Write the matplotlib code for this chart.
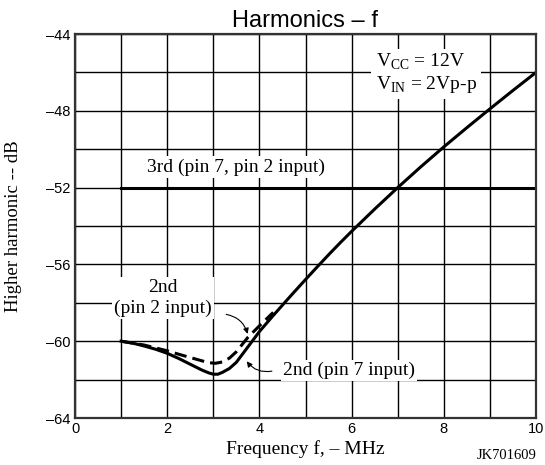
import matplotlib
matplotlib.use("Agg")
import matplotlib.pyplot as plt

plt.rcParams["mathtext.fontset"] = "custom"
plt.rcParams["mathtext.rm"] = "Liberation Serif"

# 2nd harmonic, pin 7 input (solid)
freq_pin7 = [1.0, 1.25, 1.5, 1.75, 2.0, 2.25, 2.5, 2.75, 2.9, 3.0, 3.1, 3.2, 3.35, 3.5, 3.75,
             4.0, 4.25, 4.5, 4.75, 5.0, 5.25, 5.5, 5.75, 6.0, 6.5, 7.0, 7.5, 8.0, 8.5,
             9.0, 9.5, 10.0]
db_pin7 = [-60.0, -60.1, -60.25, -60.42, -60.63, -60.9, -61.2, -61.5, -61.65, -61.72, -61.72,
           -61.62, -61.42, -61.1, -60.3, -59.5, -58.8, -58.12, -57.45, -56.79, -56.14,
           -55.5, -54.88, -54.28, -53.12, -52.0, -50.92, -49.88, -48.88, -47.9, -46.94, -46.0]

# 2nd harmonic, pin 2 input (dashed)
freq_pin2 = [1.0, 1.25, 1.5, 1.75, 2.0, 2.25, 2.5, 2.75, 2.9, 3.05, 3.2, 3.35, 3.5, 3.75, 4.0, 4.3]
db_pin2 = [-60.0, -60.1, -60.2, -60.35, -60.5, -60.68, -60.85, -61.02, -61.12, -61.15, -61.08,
           -60.88, -60.55, -59.8, -59.2, -58.5]

# 3rd harmonic (pin 7 and pin 2 input)
freq_3rd = [1.0, 10.0]
db_3rd = [-52.0, -52.0]

xticks = [0, 2, 4, 6, 8, 10]
yticks = [-44, -48, -52, -56, -60, -64]

serif = ["Liberation Serif", "DejaVu Serif"]
sans = ["Liberation Sans", "DejaVu Sans"]

fig = plt.figure(figsize=(5.45, 4.65), dpi=100)
ax = fig.add_axes([75 / 545, 47 / 465, 461 / 545, 384 / 465])

ax.set_xlim(0, 10)
ax.set_ylim(-64, -44)
ax.set_xticks(xticks)
ax.set_yticks(yticks)
ax.set_xticks(range(0, 11), minor=True)
ax.set_yticks(range(-64, -43, 2), minor=True)
ax.set_xticklabels([str(t) for t in xticks], family=sans, fontsize=10.5)
ax.set_yticklabels(["\u2013" + str(-t) for t in yticks], family=sans, fontsize=10.5)
ax.tick_params(which="both", length=0, pad=3)
ax.grid(which="both", color="black", lw=1.0)
ax.set_axisbelow(True)
for s in ax.spines.values():
    s.set_linewidth(1.6)
    s.set_color("#333333")
    s.set_zorder(5)

ax.plot(freq_3rd, db_3rd, color="black", lw=2.2, zorder=3)
ax.plot(freq_pin7, db_pin7, color="black", lw=2.2, zorder=3)
ax.plot(freq_pin2, db_pin2, color="black", lw=2.2, ls=(0, (4, 2)), zorder=3)

box = dict(facecolor="white", edgecolor="none", pad=1.5)

ax.text(3.5, -50.93, "3rd (pin 7, pin 2 input)", family=serif, fontsize=14,
        ha="center", va="center", bbox=box, zorder=4)
ax.text(1.91, -57.75, "2nd\n(pin 2 input)", family=serif, fontsize=14,
        ha="center", va="center", linespacing=1.25, bbox=box, zorder=4)
ax.text(5.95, -61.53, "2nd (pin 7 input)", family=serif, fontsize=14,
        ha="center", va="center", bbox=box, zorder=4)
ax.text(6.52, -46.05, "V$_{\\rm CC}$ = 12V\nV$_{\\rm IN}$ = 2Vp-p", family=serif,
        fontsize=14, ha="left", va="center", linespacing=1.1,
        bbox=dict(facecolor="white", edgecolor="none", pad=3), zorder=4)

ax.annotate("", xy=(3.76, -59.76), xytext=(3.22, -58.58),
            arrowprops=dict(arrowstyle="-|>", color="black", lw=0.8,
                            mutation_scale=8, connectionstyle="arc3,rad=-0.35"),
            zorder=4)
ax.annotate("", xy=(3.69, -60.93), xytext=(4.33, -61.53),
            arrowprops=dict(arrowstyle="-|>", color="black", lw=0.8,
                            mutation_scale=8, connectionstyle="arc3,rad=-0.35"),
            zorder=4)

ax.set_title("Harmonics \u2013 f", family=sans, fontsize=17, pad=5)
ax.set_xlabel("Frequency f, \u2013 MHz", family=serif, fontsize=14)
ax.xaxis.set_label_coords(0.5, -0.058)
ax.set_ylabel("Higher harmonic -- dB", family=serif, fontsize=13.5)
ax.yaxis.set_label_coords(-0.115, 0.5)
fig.text(537 / 545, 3 / 465, "JK701609", family=serif, fontsize=10.5, ha="right", va="bottom")

fig.savefig("out.png", dpi=100)
